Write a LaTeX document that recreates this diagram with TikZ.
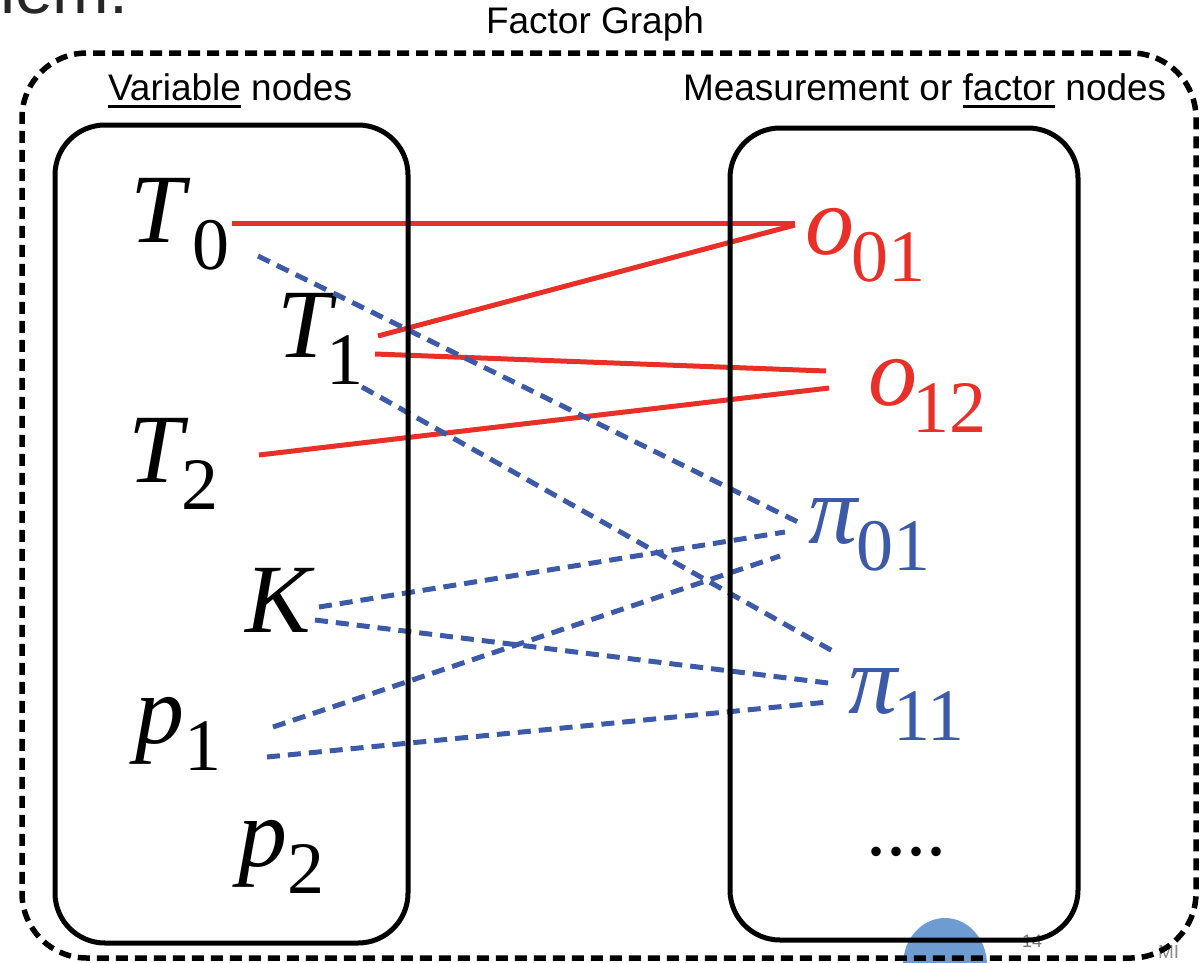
\documentclass[tikz,border=0pt]{standalone}
\usepackage{fontspec}
\setmainfont{Liberation Serif}
\newfontfamily\sfont{Liberation Sans}
\definecolor{fgred}{RGB}{232,48,40}
\definecolor{fgblue}{RGB}{60,90,168}
\definecolor{logoblue}{RGB}{110,155,210}
\newcommand{\lab}[3]{{\fontsize{98}{98}\selectfont\itshape #2}\kern#1pt{\fontsize{74}{74}\selectfont\raisebox{-27pt}{#3}}}
\newcommand{\ulx}[1]{\setbox0\hbox{#1}\rlap{\rule[-8pt]{\wd0}{3pt}}\box0\relax}
\begin{document}
\begin{tikzpicture}[x=1pt,y=-1pt,
  lbl/.style={anchor=base west, inner sep=0pt, outer sep=0pt},
  sflab/.style={inner sep=0pt, outer sep=0pt, font=\sfont\fontsize{37}{37}\selectfont},
  redline/.style={draw=fgred, line width=5pt},
  blueline/.style={draw=fgblue, line width=5pt, dash pattern=on 13pt off 8pt},
  groupbox/.style={draw, line width=5pt, rounded corners=50pt, inner sep=0pt, outer sep=0pt},
  outerbox/.style={draw, line width=5.5pt, dash pattern=on 12pt off 7pt, rounded corners=65pt, inner sep=0pt, outer sep=0pt}]
\useasboundingbox (0,0) rectangle (1200,962);
\clip (0,0) rectangle (1200,962);
\fill[white] (0,0) rectangle (1200,962);

% slide fragments
\node[lbl, font=\sfont\fontsize{68}{68}\selectfont, text=black!85] (frag) at (0,13) {lem:};
\fill[logoblue] (945,965) ellipse [x radius=42pt, y radius=47pt];
\node[lbl, font=\sfont\fontsize{18}{18}\selectfont, text=black!55] (pgnum) at (1022,947) {14};
\node[lbl, font=\sfont\fontsize{19}{19}\selectfont, text=black!45] (mi) at (1158,958) {MI};

% titles
\node[sflab, anchor=base] (title) at (595,33) {Factor Graph};
\node[sflab, anchor=base west] (varlab) at (108,100) {\ulx{Variable} nodes};
\node[sflab, anchor=base west] (faclab) at (683,100) {Measurement or \ulx{factor} nodes};

% variable nodes
\node[lbl] (t0) at (130,242) {\lab{8}{T}{0}};
\node[lbl] (t1) at (277,357) {\lab{-5}{T}{1}};
\node[lbl] (t2) at (128,482) {\lab{-1}{T}{2}};
\node[lbl] (k)  at (245,632) {{\fontsize{98}{98}\selectfont\itshape K}};
\node[lbl] (p1) at (135,743) {\lab{0}{p}{1}};
\node[lbl] (p2) at (238,866) {\lab{0}{p}{2}};

% factor nodes
\node[lbl, text=fgred] (o01) at (805,254) {\lab{-3}{o}{01}};
\node[lbl, text=fgred] (o12) at (868,405) {\lab{-5}{o}{12}};
\node[lbl, text=fgblue] (pi01) at (808,543) {\lab{-1}{π}{01}};
\node[lbl, text=fgblue] (pi11) at (848,713) {\lab{-4}{π}{11}};
\node[lbl, font=\fontsize{80}{80}\selectfont] (dots) at (866,855) {....};

% measurement edges
\draw[redline] ([shift={(102,-19)}]t0.base west) -- ([shift={(-10,-31)}]o01.base west);
\draw[redline] ([shift={(101,-21)}]t1.base west) -- ([shift={(-10,-29)}]o01.base west);
\draw[redline] ([shift={(98,-3)}]t1.base west) -- ([shift={(-42,-34)}]o12.base west);
\draw[redline] ([shift={(131,-27)}]t2.base west) -- ([shift={(-39,-17)}]o12.base west);

% factor edges
\draw[blueline] ([shift={(128,14)}]t0.base west) -- ([shift={(-6,-19)}]pi01.base west);
\draw[blueline] ([shift={(85,30)}]t1.base west) -- ([shift={(-10,-59)}]pi11.base west);
\draw[blueline] ([shift={(74,-25)}]k.base west) -- ([shift={(-23,-11)}]pi01.base west);
\draw[blueline] ([shift={(70,-12)}]k.base west) -- ([shift={(-20,-30)}]pi11.base west);
\draw[blueline] ([shift={(138,-16)}]p1.base west) -- ([shift={(-28,13)}]pi01.base west);
\draw[blueline] ([shift={(132,14)}]p1.base west) -- ([shift={(-20,-11)}]pi11.base west);

% boxes
\node[groupbox, minimum width=353pt, minimum height=818pt] (varbox) at (231.5,534) {};
\node[groupbox, minimum width=348pt, minimum height=812pt] (facbox) at (904,534) {};
\node[outerbox, minimum width=1174pt, minimum height=905pt] (outer) at (609,505.5) {};
\end{tikzpicture}
\end{document}
